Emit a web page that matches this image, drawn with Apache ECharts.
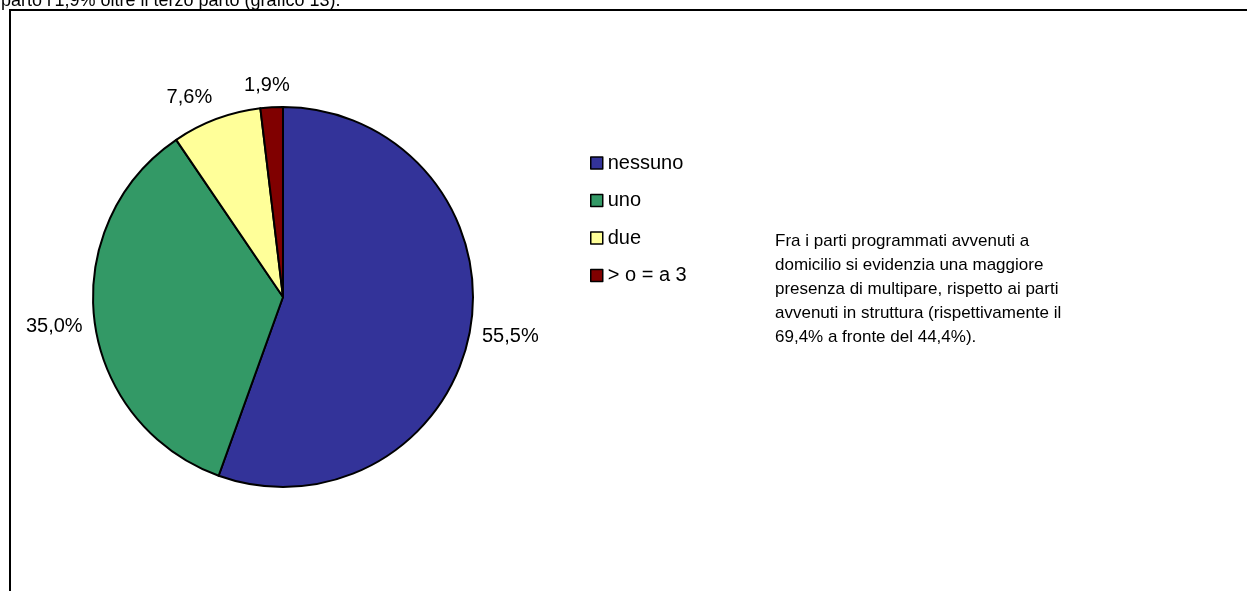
<!DOCTYPE html>
<html>
<head>
<meta charset="utf-8">
<title>Grafico 13</title>
<script src="https://cdn.jsdelivr.net/npm/echarts@6/dist/echarts.min.js"></script>
<style>
  html, body { margin: 0; padding: 0; background: #ffffff; }
  #chart { width: 1247px; height: 591px; }
</style>
</head>
<body>
<div id="chart"></div>
<script>
// Parti precedenti (distribuzione percentuale)
const categories = ['nessuno', 'uno', 'due', '> o = a 3'];
const values = [55.5, 35.0, 7.6, 1.9];
const colors = ['#333399', '#339966', '#FFFF99', '#800000'];

const topText = "parto l'1,9% oltre il terzo parto (grafico 13).";
const noteLines = [
  'Fra i parti programmati avvenuti a',
  'domicilio si evidenzia una maggiore',
  'presenza di multipare, rispetto ai parti',
  'avvenuti in struttura (rispettivamente il',
  '69,4% a fronte del 44,4%).'
];

const FONT = "'Liberation Sans', Arial, sans-serif";
const PIE_CENTER = [283, 297];
const PIE_RADIUS = 190;
const LABEL_GAP = 12;

const fmt = v => v.toFixed(1).replace('.', ',') + '%';

// mid angle of each slice, clockwise from 12 o'clock
const total = values.reduce((a, b) => a + b, 0);
const midAngles = [];
let acc = 0;
values.forEach(v => {
  midAngles.push((acc + v / 2) / total * 2 * Math.PI);
  acc += v;
});

const chart = echarts.init(document.getElementById('chart'), null, { renderer: 'canvas' });

chart.setOption({
  backgroundColor: '#ffffff',
  animation: false,
  textStyle: { fontFamily: FONT },
  legend: {
    orient: 'vertical',
    left: 590,
    top: 153,
    padding: 0,
    icon: 'rect',
    itemWidth: 12,
    itemHeight: 12,
    itemGap: 17.5,
    selectedMode: false,
    itemStyle: { borderColor: '#000000', borderWidth: 1.5 },
    textStyle: { fontFamily: FONT, fontSize: 20, color: '#000000', lineHeight: 20 },
    data: categories
  },
  graphic: [
    {
      type: 'rect',
      silent: true,
      shape: { x: 10, y: 10, width: 1300, height: 700 },
      style: { fill: 'none', stroke: '#000000', lineWidth: 2 }
    },
    {
      type: 'text',
      silent: true,
      x: 1,
      y: 10,
      style: {
        text: topText,
        font: '18px ' + FONT,
        fill: '#000000',
        verticalAlign: 'bottom'
      }
    },
    {
      type: 'text',
      silent: true,
      x: 775,
      y: 229,
      style: {
        text: noteLines.join('\n'),
        font: '17px ' + FONT,
        lineHeight: 24,
        fill: '#000000',
        verticalAlign: 'top'
      }
    }
  ],
  series: [
    {
      type: 'pie',
      center: PIE_CENTER,
      radius: PIE_RADIUS,
      startAngle: 90,
      clockwise: true,
      avoidLabelOverlap: false,
      itemStyle: { borderColor: '#000000', borderWidth: 2 },
      emphasis: { disabled: true },
      label: {
        show: true,
        position: 'outside',
        fontFamily: FONT,
        fontSize: 20,
        color: '#000000',
        formatter: p => fmt(p.value)
      },
      labelLine: { show: false, length: 10, length2: 0 },
      labelLayout: function (params) {
        const a = midAngles[params.dataIndex];
        const dx = Math.sin(a);
        const dy = -Math.cos(a);
        const px = PIE_CENTER[0] + dx * PIE_RADIUS;
        const py = PIE_CENTER[1] + dy * PIE_RADIUS;
        const w = params.labelRect.width;
        const h = params.labelRect.height;
        const f = v => Math.sign(v) * Math.min(1, Math.abs(v) * 3);
        return {
          x: px + dx * LABEL_GAP + f(dx) * w / 2,
          y: py + dy * LABEL_GAP + f(dy) * h / 2,
          align: 'center',
          verticalAlign: 'middle'
        };
      },
      data: categories.map((name, i) => ({
        name: name,
        value: values[i],
        itemStyle: { color: colors[i] }
      }))
    }
  ]
});
</script>
</body>
</html>
